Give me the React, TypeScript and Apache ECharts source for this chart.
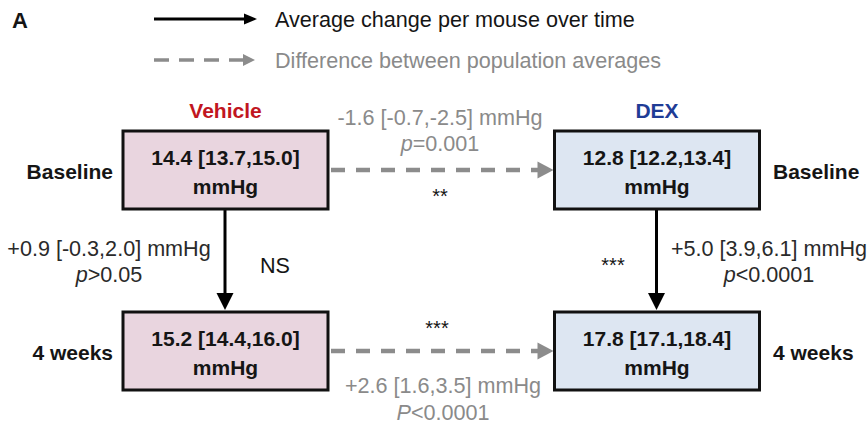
import React, { useEffect, useRef } from 'react';
import * as echarts from 'echarts';

// ---- data ----
const panelLabel = 'A';
const legendLabels = ['Average change per mouse over time', 'Difference between population averages'];
const groups = ['Vehicle', 'DEX'];
const groupColors = ['#c1161f', '#1f3c96'];
const timepoints = ['Baseline', '4 weeks'];
const unit = 'mmHg';
// [group][timepoint]
const boxMean = [[14.4, 15.2], [12.8, 17.8]];
const boxLow = [[13.7, 14.4], [12.2, 17.1]];
const boxHigh = [[15.0, 16.0], [13.4, 18.4]];
// change over time, per group
const withinMean = [0.9, 5.0];
const withinLow = [-0.3, 3.9];
const withinHigh = [2.0, 6.1];
const withinPSym = ['p', 'p'];
const withinPVal = ['>0.05', '<0.0001'];
const withinSig = ['NS', '***'];
// difference DEX - Vehicle, per timepoint
const betweenMean = [-1.6, 2.6];
const betweenLow = [-0.7, 1.6];
const betweenHigh = [-2.5, 3.5];
const betweenPSym = ['p', 'P'];
const betweenPVal = ['=0.001', '<0.0001'];
const betweenSig = ['**', '***'];

const FONT = '"Liberation Sans", Arial, Helvetica, sans-serif';
const DARK = '#151515';
const GRAY_TXT = '#8a8a8a';
const GRAY_LINE = '#8c8c8c';
const boxFill = ['#e9d5df', '#dde6f2'];
const REG = 21.6;

const f1 = (v: number) => v.toFixed(1);
const sgn = (v: number) => (v > 0 ? '+' : '') + f1(v);

function txt(x: number, y: number, text: string, opts: any = {}) {
  const size = opts.size ?? (opts.bold ? 21 : REG);
  const fill = opts.fill ?? DARK;
  const align = opts.align ?? 'center';
  return {
    type: 'text',
    x,
    y,
    silent: true,
    style: {
      text,
      fill,
      fontSize: size,
      fontFamily: FONT,
      fontWeight: opts.bold ? 'bold' : 'normal',
      align,
      verticalAlign: 'middle',
      textAlign: align,
      textVerticalAlign: 'middle',
      rich: {
        i: { fontStyle: 'italic', fontSize: size, fontFamily: FONT, fill },
      },
    },
  };
}

function hArrow(x1: number, tip: number, y: number, color: string, lw: number, headL: number, headH: number, dash?: number[]) {
  return [
    {
      type: 'line',
      silent: true,
      shape: { x1, y1: y, x2: tip - headL + 1, y2: y },
      style: { stroke: color, lineWidth: lw, lineDash: dash },
    },
    {
      type: 'polygon',
      silent: true,
      shape: { points: [[tip - headL, y - headH / 2], [tip, y], [tip - headL, y + headH / 2]] },
      style: { fill: color },
    },
  ];
}

function vArrow(x: number, y1: number, tip: number, color: string, lw: number, headL: number, headW: number) {
  return [
    {
      type: 'line',
      silent: true,
      shape: { x1: x, y1, x2: x, y2: tip - headL + 1 },
      style: { stroke: color, lineWidth: lw },
    },
    {
      type: 'polygon',
      silent: true,
      shape: { points: [[x - headW / 2, tip - headL], [x + headW / 2, tip - headL], [x, tip]] },
      style: { fill: color },
    },
  ];
}

export default function App() {
  const ref = useRef<HTMLDivElement>(null);
  useEffect(() => {
    document.body.style.margin = '0';
    if (!ref.current) return;
    const chart = echarts.init(ref.current, undefined, { renderer: 'svg' });

    const colX = [225.5, 657];
    const rowY = [170, 351];
    const boxW = 205;
    const boxH = 78;
    const els: any[] = [];

    // panel letter
    els.push(txt(12, 20, panelLabel, { bold: true, align: 'left', size: 22 }));

    // legend
    els.push(...hArrow(154, 257, 19, '#000', 3, 13, 11));
    els.push(txt(275, 19, legendLabels[0], { align: 'left', fill: DARK }));
    els.push(...hArrow(154, 255, 60, GRAY_LINE, 3.5, 12, 12, [15, 10]));
    els.push(txt(275, 60, legendLabels[1], { align: 'left', fill: GRAY_TXT }));

    // group headers
    groups.forEach((g, gi) => {
      els.push(txt(colX[gi], 110, g, { bold: true, fill: groupColors[gi] }));
    });

    // row labels
    timepoints.forEach((t, ti) => {
      els.push(txt(113, rowY[ti] + 1, t, { bold: true, align: 'right' }));
      els.push(txt(773, rowY[ti] + 1, t, { bold: true, align: 'left' }));
    });

    // horizontal dashed arrows (between-group difference)
    timepoints.forEach((_, ti) => {
      els.push(...hArrow(colX[0] + boxW / 2 + 3, colX[1] - boxW / 2 - 1, rowY[ti], GRAY_LINE, 4.5, 16, 17, [14, 11]));
    });

    // vertical arrows (within-group change)
    groups.forEach((_, gi) => {
      els.push(...vArrow(colX[gi] - 0.5, rowY[0] + boxH / 2 + 1, rowY[1] - boxH / 2 - 2, '#000', 3, 17, 17));
    });

    // boxes
    groups.forEach((_, gi) => {
      timepoints.forEach((__, ti) => {
        const cx = colX[gi];
        const cy = rowY[ti];
        els.push({
          type: 'rect',
          silent: true,
          shape: { x: cx - boxW / 2, y: cy - boxH / 2, width: boxW, height: boxH },
          style: { fill: boxFill[gi], stroke: '#111', lineWidth: 3 },
        });
        els.push(
          txt(cx, cy - 13, `${f1(boxMean[gi][ti])} [${f1(boxLow[gi][ti])},${f1(boxHigh[gi][ti])}]`, { bold: true })
        );
        els.push(txt(cx, cy + 16, unit, { bold: true }));
      });
    });

    // within-group labels
    const wX = [109, 769];
    const sigPos = [[275, 265], [613, 265]];
    groups.forEach((_, gi) => {
      els.push(txt(wX[gi], 248, `${sgn(withinMean[gi])} [${f1(withinLow[gi])},${f1(withinHigh[gi])}] ${unit}`, { fill: '#2a2a2a' }));
      els.push(txt(wX[gi], 274, `{i|${withinPSym[gi]}}${withinPVal[gi]}`, { fill: '#2a2a2a' }));
      els.push(txt(sigPos[gi][0], sigPos[gi][1], withinSig[gi], { fill: DARK, size: withinSig[gi].startsWith('*') ? 20 : REG }));
    });

    // between-group labels
    const bX = [440, 443];
    const bY = [[117, 143], [385, 412]];
    const bSig = [[440, 196], [437, 328]];
    timepoints.forEach((_, ti) => {
      els.push(txt(bX[ti], bY[ti][0], `${sgn(betweenMean[ti])} [${f1(betweenLow[ti])},${f1(betweenHigh[ti])}] ${unit}`, { fill: GRAY_TXT }));
      els.push(txt(bX[ti], bY[ti][1], `{i|${betweenPSym[ti]}}${betweenPVal[ti]}`, { fill: GRAY_TXT }));
      els.push(txt(bSig[ti][0], bSig[ti][1], betweenSig[ti], { fill: DARK, size: 20 }));
    });

    chart.setOption({
      animation: false,
      backgroundColor: '#ffffff',
      graphic: { elements: els },
    });
    return () => chart.dispose();
  }, []);
  return <div ref={ref} style={{ width: 868, height: 423 }} />;
}
